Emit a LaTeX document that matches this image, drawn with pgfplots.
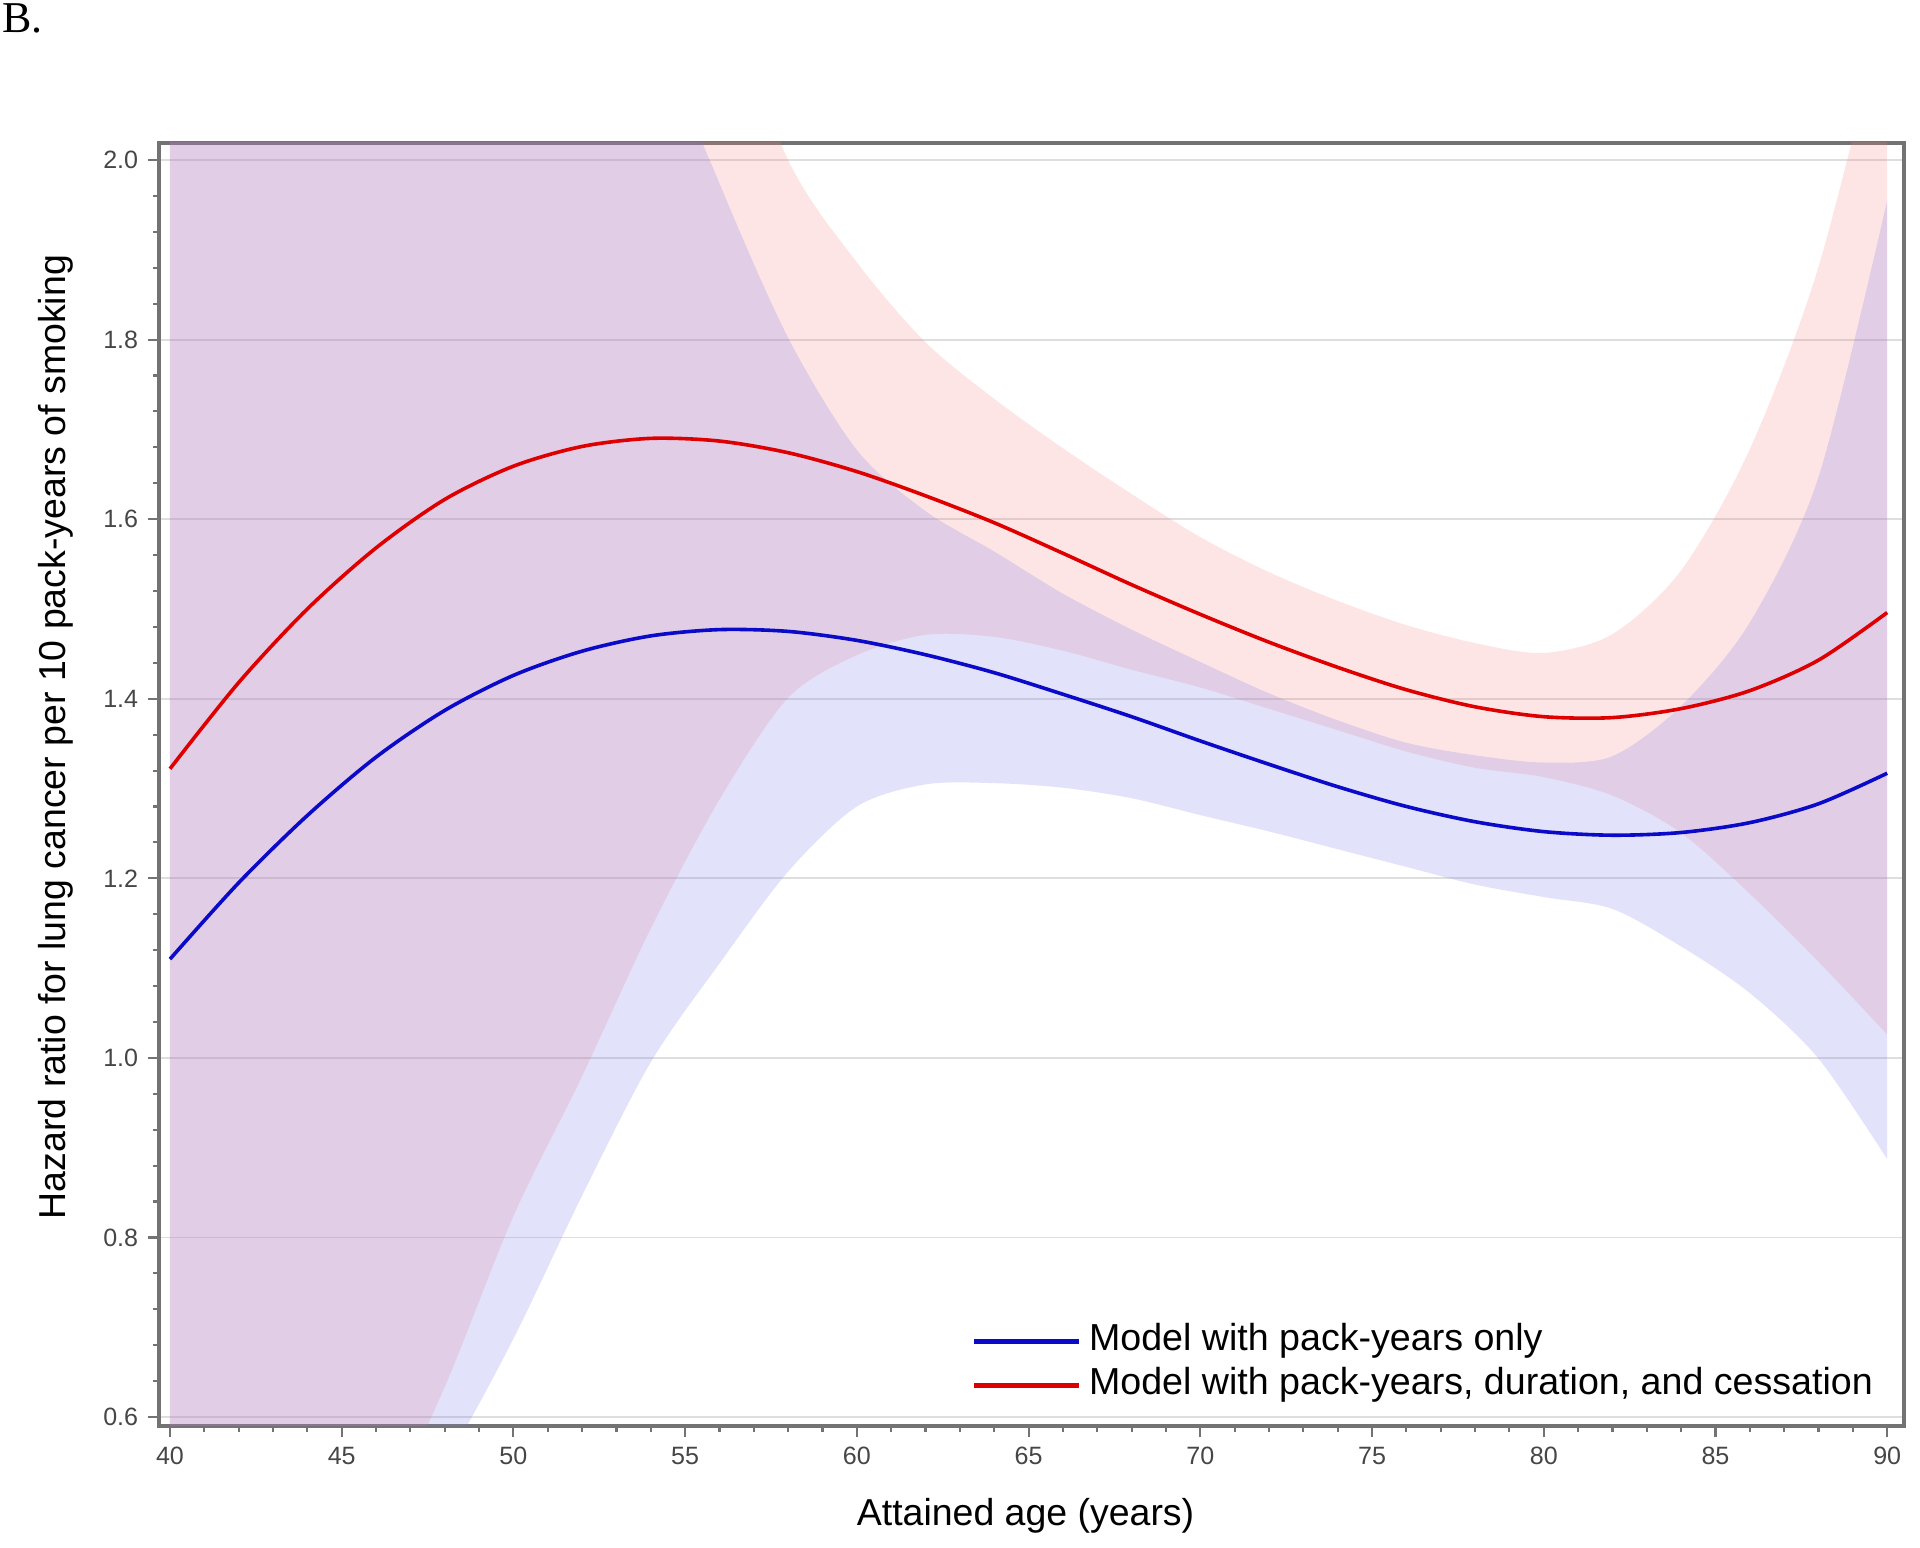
\documentclass[border=0pt]{standalone}
\usepackage{fontspec}
\setmainfont{Liberation Sans}
\newfontfamily\seriffont{Liberation Serif}
\usepackage{pgfplots}
\usepackage{pgfplotstable}
\pgfplotsset{compat=1.18}
\usepgfplotslibrary{fillbetween}
\definecolor{bandblue}{RGB}{123,123,232}
\definecolor{bandred}{RGB}{250,125,125}
\definecolor{lineblue}{RGB}{10,10,200}
\definecolor{linered}{RGB}{222,0,0}
\definecolor{framegray}{RGB}{115,115,115}
\definecolor{gridgray}{RGB}{222,222,222}
\definecolor{ticktext}{RGB}{70,70,70}

\pgfplotstableread{
age B Blo Bhi R Rlo Rhi
40 1.110 0.2241 5.498 1.322 0.1789 9.768
42 1.195 0.2803 5.094 1.418 0.2590 7.762
44 1.270 0.3461 4.660 1.500 0.3519 6.395
46 1.335 0.4356 4.092 1.568 0.4723 5.206
48 1.387 0.5472 3.516 1.622 0.6336 4.152
50 1.426 0.6872 2.959 1.659 0.8238 3.341
52 1.453 0.8467 2.493 1.681 0.9796 2.885
54 1.470 0.9953 2.171 1.690 1.1442 2.496
56 1.477 1.1052 1.974 1.687 1.2878 2.210
58 1.475 1.2076 1.802 1.674 1.4011 2.000
60 1.465 1.2800 1.677 1.653 1.4486 1.886
62 1.449 1.3046 1.609 1.626 1.4712 1.797
64 1.429 1.3060 1.564 1.596 1.4689 1.734
66 1.405 1.3009 1.517 1.562 1.4535 1.679
68 1.380 1.2892 1.477 1.527 1.4323 1.628
70 1.353 1.2704 1.441 1.494 1.4126 1.580
72 1.327 1.2522 1.406 1.463 1.3888 1.541
74 1.302 1.2324 1.376 1.435 1.3650 1.509
76 1.280 1.2127 1.351 1.410 1.3412 1.482
78 1.263 1.1930 1.337 1.391 1.3231 1.462
80 1.252 1.1791 1.329 1.380 1.3127 1.451
82 1.248 1.1659 1.336 1.379 1.2922 1.472
84 1.251 1.1241 1.392 1.389 1.2506 1.543
86 1.262 1.0722 1.485 1.409 1.1828 1.678
88 1.283 0.9992 1.647 1.443 1.1071 1.881
90 1.317 0.8872 1.955 1.496 1.0261 2.181
}\data

\begin{document}
\begin{tikzpicture}
\node[anchor=north west, inner sep=0pt, font=\seriffont\fontsize{16.5}{18}\selectfont] at (0.75pt,579.4pt) {B.};
\begin{axis}[
  at={(59.625pt,45.75pt)}, anchor=south west,
  width=654.375pt, height=481.125pt, scale only axis,
  xmin=39.68, xmax=90.49, ymin=0.59, ymax=2.019,
  xtick={40,45,50,55,60,65,70,75,80,85,90},
  ytick={0.6,0.8,1.0,1.2,1.4,1.6,1.8,2.0},
  minor x tick num=4, minor y tick num=4,
  tick pos=left, tick align=outside,
  major tick length=4.3pt, minor tick length=2.2pt,
  axis line style={framegray, line width=1.2pt},
  every tick/.style={framegray, line width=0.8pt},
  ymajorgrids, major grid style={gridgray, line width=0.7pt},
  /pgf/number format/assume math mode=true,
  ticklabel style={font=\fontsize{9.4}{11}\selectfont, color=ticktext},
  yticklabel style={/pgf/number format/.cd, fixed, fixed zerofill, precision=1},
  xticklabel style={/pgf/number format/.cd, fixed, precision=0},
  every axis x label/.style={at={(rel axis cs:0.4966,0)}, anchor=center, yshift=-33.75pt},
  every axis y label/.style={at={(rel axis cs:-0.05903,0.537)}, rotate=90, anchor=center},
  label style={font=\fontsize{14.05}{16}\selectfont},
  xlabel={Attained age (years)},
  ylabel={Hazard ratio for lung cancer per 10 pack-years of smoking},
  legend style={at={(rel axis cs:0.4655,0.0835)}, anchor=north west, draw=none, fill=none,
    inner sep=0pt, font=\fontsize{14.1}{16}\selectfont,
    nodes={inner sep=1.2pt, text height=10.6pt, text depth=3.5pt}},
  legend cell align=left,
  legend image code/.code={\draw[#1, line width=1.6pt] (0pt,0pt) -- (39.2pt,0pt); \path (41.3pt,0pt);},
]
\addplot[name path=rhi, draw=none, smooth, forget plot] table[x=age,y=Rhi]{\data};
\addplot[name path=rlo, draw=none, smooth, forget plot] table[x=age,y=Rlo]{\data};
\addplot[fill=bandred, fill opacity=0.2, draw=none, forget plot] fill between[of=rhi and rlo];
\addplot[name path=bhi, draw=none, smooth, forget plot] table[x=age,y=Bhi]{\data};
\addplot[name path=blo, draw=none, smooth, forget plot] table[x=age,y=Blo]{\data};
\addplot[fill=bandblue, fill opacity=0.22, draw=none, forget plot] fill between[of=bhi and blo];
\addplot[lineblue, line width=1.35pt, smooth] table[x=age,y=B]{\data};
\addlegendentry{Model with pack-years only}
\addplot[linered, line width=1.35pt, smooth] table[x=age,y=R]{\data};
\addlegendentry{Model with pack-years, duration, and cessation}
\end{axis}
\pgfresetboundingbox
\path[use as bounding box] (0,0) rectangle (720pt,580.5pt);
\end{tikzpicture}
\end{document}
